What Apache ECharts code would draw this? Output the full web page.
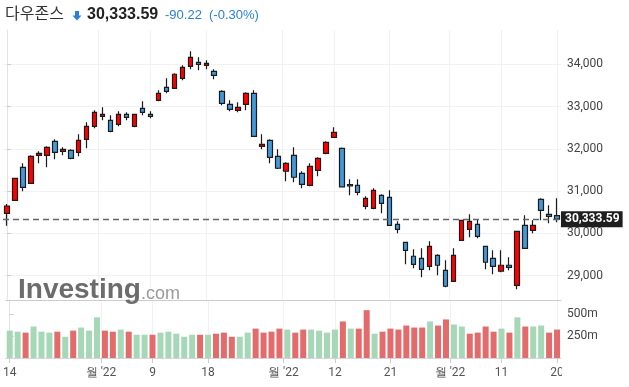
<!DOCTYPE html>
<html>
<head>
<meta charset="utf-8">
<script src="https://cdn.jsdelivr.net/npm/echarts@6/dist/echarts.min.js"></script>
<style>
html,body{margin:0;padding:0;background:#fff;}
#chart{width:629px;height:387px;}
</style>
</head>
<body>
<div id="chart"></div>
<script>
// ---- data ----
const dates = ['7/14','7/15','7/18','7/19','7/20','7/21','7/22','7/25','7/26','7/27','7/28','7/29',
 '8/1','8/2','8/3','8/4','8/5','8/8','8/9','8/10','8/11','8/12','8/15','8/16','8/17','8/18','8/19',
 '8/22','8/23','8/24','8/25','8/26','8/29','8/30','8/31','9/1','9/2','9/6','9/7','9/8','9/9',
 '9/12','9/13','9/14','9/15','9/16','9/19','9/20','9/21','9/22','9/23','9/26','9/27','9/28','9/29','9/30',
 '10/3','10/4','10/5','10/6','10/7','10/10','10/11','10/12','10/13','10/14','10/17','10/18','10/19','10/20'];
const opens  = [30473,30781,31562,31183,31846,31846,32178,31941,31964,31917,32225,32533,32769,32675,32580,32817,32533,32959,32817,33148,
 33456,33432,33669,33953,34047,33976,33834,33361,33053,32911,33053,33314,32059,32201,31823,31468,31846,31420,31136,31491,
 31894,32272,32012,31150,31136,30639,30592,30899,30852,30213,29787,29456,29408,29219,29479,29124,28864,29834,30095,30213,
 29692,29408,29101,29243,28769,30189,30071,30805,30450,30420];
const closes = [30646,31302,31089,31823,31894,32036,31917,31988,31775,32201,32533,32864,32817,32414,32817,32746,32817,32864,32769,33314,
 33361,33764,33929,34166,34000,34024,33740,33077,32935,32982,33314,32296,32107,31799,31539,31657,31326,31160,31586,31775,
 32154,32391,31100,31120,30970,30828,31018,30710,30189,30095,29598,29266,29148,29692,29243,28746,29479,30308,30284,29929,
 29314,29219,29243,29195,30047,29645,30189,30544,30402,30333.59];
const lows   = [30180,30770,30994,31167,31657,31562,31752,31846,31752,31823,32012,32485,32675,32390,32533,32675,32509,32793,32722,33124,
 33314,33416,33621,33882,33858,33882,33645,33030,32888,32864,32911,32280,31988,31657,31520,31231,31207,31065,31112,31349,
 31870,32260,31089,30899,30899,30568,30568,30473,30189,30000,29266,29172,28959,29124,29006,28722,28850,29820,29905,29882,
 29148,29030,29077,29124,28674,29640,30000,30308,30237,30260];
const highs  = [30694,31310,31657,31846,31941,32059,32225,32036,31988,32343,32627,32911,32982,32793,32888,32864,32830,33124,32888,33385,
 33669,33787,33976,34308,34166,34095,33882,33385,33148,33101,33338,33385,32343,32225,31988,31681,32036,31468,31657,31799,
 32178,32509,32030,31278,31278,30876,31065,30923,31018,30284,29800,29621,29645,29811,29503,29361,29645,30320,30450,30331,
 29700,29598,29598,29432,30060,30426,30308,30828,30663,30828];
const volumesM = [313,301,290,360,301,290,301,243,313,348, 313,465,313,301,325,301,266,266,266,290,
 301,278,243,266,266,266,278,290,243,243, 290,336,290,301,336,325,290,325,325,313,
 290,325,418,336,336,547,278,301,336,325, 371,348,348,418,371,441,383,360,278,290,
 360,301,336,290,465,360,360,371,290,325];
const lastPrice = 30333.59;
const priceTicks = [29000,30000,31000,32000,33000,34000];
const volumeTicks = [250e6,500e6];
const xTickPositions = [0,11.5,18,25,34.5,41,48,55.5,62,69];
const xTickLabels = ['14',"월 '22",'9','18',"월 '22",'12','21',"월 '22",'11','20'];

// ---- build ----
const candleData = opens.map((o,i)=>[o, closes[i], lows[i], highs[i]]);
const volData = volumesM.map((v,i)=>({
  value: v*1e6,
  itemStyle:{color: (i===0 || closes[i] >= closes[i-1]) ? '#a6d7b6' : '#e36b6b'}
}));

const chart = echarts.init(document.getElementById('chart'), null, {renderer:'canvas'});
const F = 'Roboto, "Liberation Sans", Arial, sans-serif';
const gridColor = '#f1f1f3';
const labelFmt = v => {
  const k = xTickPositions.findIndex(p => Math.abs(p - v) < 1e-6);
  return k >= 0 ? xTickLabels[k] : '';
};

chart.setOption({
  animation:false,
  grid:[
    {left:3, right:68, top:30, bottom:87},
    {left:3, right:68, top:300, bottom:29}
  ],
  xAxis:[
    {type:'category', gridIndex:0, data:dates, show:false, boundaryGap:true},
    {type:'category', gridIndex:1, data:dates, show:false, boundaryGap:true},
    {type:'value', gridIndex:0, min:-0.5, max:69.5,
      axisLine:{show:false},
      axisTick:{show:false, customValues:xTickPositions},
      axisLabel:{show:false, customValues:xTickPositions},
      splitLine:{show:true, lineStyle:{color:gridColor}}},
    {type:'value', gridIndex:1, min:-0.5, max:69.5, position:'bottom',
      axisLine:{show:true, onZero:false, lineStyle:{color:'#d6d6da'}},
      axisTick:{show:true, length:5, customValues:xTickPositions, lineStyle:{color:'#cccccc'}},
      axisLabel:{show:true, customValues:xTickPositions, formatter:labelFmt, color:'#555', fontSize:12, fontFamily:F, margin:9},
      splitLine:{show:true, lineStyle:{color:gridColor}}},
    {type:'value', gridIndex:1, min:-0.5, max:69.5, position:'top',
      axisLine:{show:true, onZero:false, lineStyle:{color:'#cccccc', width:1}},
      axisTick:{show:false}, axisLabel:{show:false}, splitLine:{show:false}}
  ],
  yAxis:[
    {type:'value', gridIndex:0, position:'right', min:28421, max:34812,
      axisLine:{show:true, lineStyle:{color:'#e2e2e8'}},
      axisTick:{show:true, length:4, customValues:priceTicks, lineStyle:{color:'#cccccc'}},
      axisLabel:{customValues:priceTicks, color:'#444', fontSize:12, fontFamily:F, margin:6,
        formatter: v => v.toLocaleString('en-US')},
      splitLine:{show:true, lineStyle:{color:gridColor}}},
    {type:'value', gridIndex:1, position:'right', min:0, max:663e6,
      axisLine:{show:true, lineStyle:{color:'#e2e2e8'}},
      axisTick:{show:true, length:4, customValues:volumeTicks, lineStyle:{color:'#cccccc'}},
      axisLabel:{customValues:volumeTicks, color:'#444', fontSize:12, fontFamily:F, margin:6,
        formatter: v => (v/1e6) + 'm'},
      splitLine:{show:false}}
  ],
  series:[
    {type:'candlestick', xAxisIndex:0, yAxisIndex:0, data:candleData, barWidth:5,
      itemStyle:{color:'#ff0000', color0:'#4398d8', borderColor:'#1b1b1b', borderColor0:'#1b1b1b', borderWidth:1.2},
      markLine:{silent:true, symbol:'none', animation:false,
        lineStyle:{color:'#666', type:[6,4], width:1.3},
        label:{show:true, position:'end', distance:0, formatter:()=>lastPrice.toLocaleString('en-US',{minimumFractionDigits:2}),
          backgroundColor:'#1f1f1f', color:'#fff', fontWeight:'bold', fontSize:12, fontFamily:F, padding:[2,3,2,4]},
        data:[{yAxis:lastPrice}]}},
    {type:'bar', xAxisIndex:1, yAxisIndex:1, data:volData, barWidth:6}
  ],
  graphic:[
    {type:'text', left:5, top:5, style:{text:'다우존스', font:'16px "Noto Sans CJK KR"', fill:'#333'}},
    {type:'polygon', shape:{points:[[75,11],[79,11],[79,15.5],[81.5,15.5],[77,20.5],[72.5,15.5],[75,15.5]]}, style:{fill:'#2a80d8'}},
    {type:'text', x:87, y:15, style:{text:'30,333.59', font:'bold 16px "Liberation Sans", Arial', fill:'#222', verticalAlign:'middle'}},
    {type:'text', x:165, y:15.5, style:{text:'-90.22', font:'13px "Liberation Sans", Arial', fill:'#2a80d8', verticalAlign:'middle'}},
    {type:'text', x:209, y:15.5, style:{text:'(-0.30%)', font:'13px "Liberation Sans", Arial', fill:'#2a80d8', verticalAlign:'middle'}},
    {type:'text', x:18, y:290, z:10, style:{text:'Investing', font:'bold 28px "Liberation Sans", Arial', fill:'#6c6c6c', verticalAlign:'middle'}},
    {type:'text', x:141, y:294, z:10, style:{text:'.com', font:'18px "Liberation Sans", Arial', fill:'#9a9a9a', verticalAlign:'middle'}},
    {type:'rect', shape:{x:562, y:361, width:67, height:26}, z:100, style:{fill:'#fff'}}
  ]
});
</script>
</body>
</html>
